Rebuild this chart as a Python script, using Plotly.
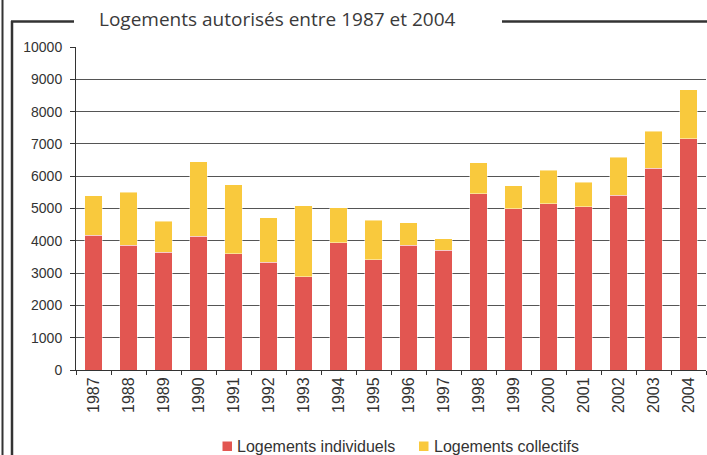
import plotly.graph_objects as go

years = ["1987", "1988", "1989", "1990", "1991", "1992", "1993", "1994", "1995",
         "1996", "1997", "1998", "1999", "2000", "2001", "2002", "2003", "2004"]
individuels = [4170, 3870, 3640, 4140, 3600, 3340, 2890, 3940, 3410,
               3870, 3710, 5450, 4990, 5150, 5050, 5410, 6240, 7160]
collectifs = [1220, 1640, 960, 2310, 2130, 1370, 2190, 1080, 1230,
              690, 360, 960, 710, 1040, 760, 1180, 1150, 1510]
y_ticks = [0, 1000, 2000, 3000, 4000, 5000, 6000, 7000, 8000, 9000, 10000]
y_tick_labels = ["0", "1000", "2000", "3000", "4000", "5000", "6000", "7000", "8000", "9000", "10000"]
title_text = "Logements autorisés entre 1987 et 2004"
legend_names = ["Logements individuels", "Logements collectifs"]

RED = "#E25651"
YELLOW = "#F9C93D"
W, H = 707, 455
ML, MR, MT, MB = 76, 1, 47, 85
PW, PH = W - ML - MR, H - MT - MB


def px(x):
    return (x - ML) / PW


def py(y):
    return (H - MB - y) / PH


fig = go.Figure()
fig.add_trace(go.Bar(x=years, y=individuels, name=legend_names[0],
                     marker=dict(color=RED, line=dict(color="rgba(255,255,255,0.45)", width=1)),
                     showlegend=False))
fig.add_trace(go.Bar(x=years, y=collectifs, name=legend_names[1],
                     marker=dict(color=YELLOW, line=dict(color="rgba(255,255,255,0.45)", width=1)),
                     showlegend=False))

shapes = [
    dict(type="line", xref="paper", yref="paper", x0=px(2.5), x1=px(2.5), y0=py(0), y1=py(H),
         line=dict(color="#333333", width=2)),
    dict(type="line", xref="paper", yref="paper", x0=px(12), x1=px(12), y0=py(21), y1=py(H),
         line=dict(color="#333333", width=2.5)),
    dict(type="line", xref="paper", yref="paper", x0=px(11), x1=px(74), y0=py(21.5), y1=py(21.5),
         line=dict(color="#333333", width=2.5)),
    dict(type="line", xref="paper", yref="paper", x0=px(502), x1=px(W), y0=py(21.5), y1=py(21.5),
         line=dict(color="#333333", width=2.5)),
    dict(type="rect", xref="paper", yref="paper", x0=px(222.5), x1=px(232), y0=py(441.5), y1=py(451),
         fillcolor=RED, line=dict(width=0)),
    dict(type="rect", xref="paper", yref="paper", x0=px(419), x1=px(428.5), y0=py(441.5), y1=py(451),
         fillcolor=YELLOW, line=dict(width=0)),
]

annotations = [
    dict(text=title_text, xref="paper", yref="paper", x=px(97), y=py(18.5),
         xanchor="left", yanchor="middle", showarrow=False,
         font=dict(family="Open Sans", size=19, color="#3a3a3a")),
    dict(text=legend_names[0], xref="paper", yref="paper", x=px(235), y=py(446.5),
         xanchor="left", yanchor="middle", showarrow=False,
         font=dict(family="Liberation Sans, Arial", size=16, color="#333333")),
    dict(text=legend_names[1], xref="paper", yref="paper", x=px(432), y=py(446.5),
         xanchor="left", yanchor="middle", showarrow=False,
         font=dict(family="Liberation Sans, Arial", size=16, color="#333333")),
]

fig.update_layout(
    width=W, height=H,
    margin=dict(l=ML, r=MR, t=MT, b=MB, pad=0),
    barmode="stack", bargap=0.51,
    plot_bgcolor="white", paper_bgcolor="white",
    shapes=shapes, annotations=annotations,
    font=dict(family="Liberation Sans, Arial", color="#333333"),
    xaxis=dict(type="category", tickangle=-90, ticks="outside", tickson="boundaries",
               ticklen=4, tickcolor="#333333", showline=True, linecolor="#333333",
               linewidth=1, showgrid=False, tickfont=dict(size=16, color="#333333")),
    yaxis=dict(range=[0, 10000], tickvals=y_ticks, ticktext=y_tick_labels, ticks="outside",
               ticklen=5, tickcolor="#333333", showline=True, linecolor="#333333", linewidth=1,
               showgrid=True, gridcolor="#555555", gridwidth=1.2, zeroline=False,
               ticklabelstandoff=5,
               tickfont=dict(size=14, color="#333333")),
)

fig.write_html("out.html", config={"displayModeBar": False},
               post_script="document.body.style.margin='0';document.body.style.overflow='hidden';")
